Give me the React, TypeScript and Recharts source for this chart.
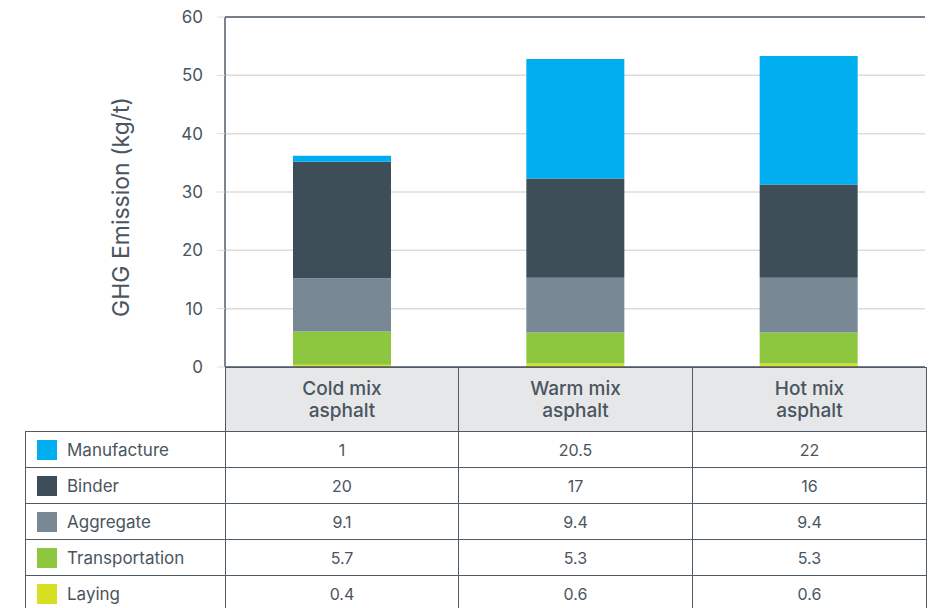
import React from "react";
import { BarChart, Bar, XAxis, YAxis, CartesianGrid, ReferenceLine } from "recharts";

const categories = ["Cold mix asphalt", "Warm mix asphalt", "Hot mix asphalt"];
const categoryLines = [["Cold mix", "asphalt"], ["Warm mix", "asphalt"], ["Hot mix", "asphalt"]];
const manufacture = [1, 20.5, 22];
const binder = [20, 17, 16];
const aggregate = [9.1, 9.4, 9.4];
const transportation = [5.7, 5.3, 5.3];
const laying = [0.4, 0.6, 0.6];
const yTicks = [0, 10, 20, 30, 40, 50, 60];
const yLabel = "GHG Emission (kg/t)";

const series = [
  { key: "manufacture", name: "Manufacture", color: "#00AEEF", values: manufacture },
  { key: "binder", name: "Binder", color: "#3D4E58", values: binder },
  { key: "aggregate", name: "Aggregate", color: "#798895", values: aggregate },
  { key: "transportation", name: "Transportation", color: "#8DC63F", values: transportation },
  { key: "laying", name: "Laying", color: "#D7DF23", values: laying },
];

const data = categories.map((c, i) => {
  const row: any = { category: c };
  series.forEach((s) => (row[s.key] = s.values[i]));
  return row;
});

const FONT = "Inter, 'Noto Sans', sans-serif";
const TEXT = "#4A5560";
const BORDER = "#4F5B66";

const stackOrder = ["laying", "transportation", "aggregate", "binder", "manufacture"];

export default function App() {
  const bw = "1.5px solid " + BORDER;
  return (
    <div style={{ position: "absolute", left: 0, top: 0, width: 934, height: 608, background: "#fff", fontFamily: FONT, overflow: "hidden" }}>
      <div style={{ position: "absolute", left: 0, top: 0 }}>
        <BarChart width={934} height={385} data={data} margin={{ top: 17, right: 9, left: 0, bottom: 18 }} barSize={98}>
          <CartesianGrid vertical={false} stroke="#DCDCDC" strokeWidth={1.5} />
          <XAxis dataKey="category" hide />
          <YAxis
            width={225}
            domain={[0, 60]}
            ticks={yTicks}
            interval={0}
            tickSize={8}
            tickMargin={14}
            tickLine={{ stroke: "#DCDCDC" }}
            axisLine={{ stroke: BORDER, strokeWidth: 1.5 }}
            tick={{ fill: TEXT, fontSize: 17, fontFamily: FONT }}
            label={{
              content: () => (
                <text x={121} y={207} transform="rotate(-90,121,207)" textAnchor="middle" dominantBaseline="central" fill={TEXT} fontSize={23} fontFamily={FONT}>
                  {yLabel}
                </text>
              ),
            }}
          />
          <YAxis yAxisId="right" orientation="right" width={0} tick={false} tickLine={false} axisLine={{ stroke: BORDER, strokeWidth: 1.5 }} domain={[0, 60]} />
          {stackOrder.map((k) => {
            const s = series.find((x) => x.key === k)!;
            return <Bar key={k} dataKey={k} name={s.name} stackId="a" fill={s.color} isAnimationActive={false} />;
          })}
          <ReferenceLine y={60} stroke={BORDER} strokeWidth={1.5} />
          <ReferenceLine y={0} stroke={BORDER} strokeWidth={1.5} />
        </BarChart>
      </div>
      <table
        style={{
          position: "absolute",
          left: 25,
          top: 367,
          width: 901,
          borderCollapse: "collapse",
          tableLayout: "fixed",
          fontFamily: FONT,
          color: TEXT,
        }}
      >
        <colgroup>
          <col style={{ width: 200 }} />
          <col style={{ width: 233 }} />
          <col style={{ width: 234 }} />
          <col style={{ width: 234 }} />
        </colgroup>
        <tbody>
          <tr style={{ height: 64 }}>
            <td style={{ borderTop: "none", borderLeft: "none", borderBottom: bw, borderRight: bw, padding: 0 }} />
            {categoryLines.map((lines, i) => (
              <td key={i} style={{ background: "#E6E7E8", border: bw, textAlign: "center", fontSize: 19, fontWeight: 500, lineHeight: "22px", padding: 0 }}>
                {lines.map((l, j) => (
                  <div key={j}>{l}</div>
                ))}
              </td>
            ))}
          </tr>
          {series.map((s) => (
            <tr key={s.key} style={{ height: 36 }}>
              <td style={{ border: bw, padding: 0, fontSize: 17 }}>
                <div style={{ display: "flex", alignItems: "center" }}>
                  <span style={{ display: "inline-block", width: 20, height: 20, background: s.color, marginLeft: 11, marginRight: 10 }} />
                  <span>{s.name}</span>
                </div>
              </td>
              {s.values.map((v, i) => (
                <td key={i} style={{ border: bw, textAlign: "center", fontSize: 16, padding: 0 }}>
                  {String(v)}
                </td>
              ))}
            </tr>
          ))}
        </tbody>
      </table>
    </div>
  );
}
